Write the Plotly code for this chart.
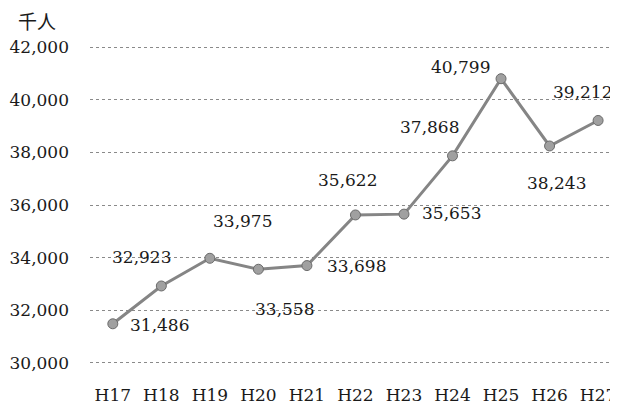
import plotly.graph_objects as go

categories = ["H17", "H18", "H19", "H20", "H21", "H22", "H23", "H24", "H25", "H26", "H27"]
values = [31486, 32923, 33975, 33558, 33698, 35622, 35653, 37868, 40799, 38243, 39212]
y_ticks = [30000, 32000, 34000, 36000, 38000, 40000, 42000]
y_tick_labels = ["30,000", "32,000", "34,000", "36,000", "38,000", "40,000", "42,000"]
unit_label = "千人"

# label offsets in pixels (style)
label_shift = [(47, -1), (-20, 29), (33, 37), (26, -40), (50, 0), (-8, 35),
               (48, 1), (-23, 29), (-41, 12), (7, -37), (-16, 28)]

serif = "DejaVu Serif"
xs = list(range(len(categories)))

fig = go.Figure()
fig.add_trace(go.Scatter(
    x=xs, y=values, mode="lines+markers",
    line=dict(color="#858585", width=3),
    marker=dict(symbol="circle", size=10, color="#a0a0a0",
                line=dict(color="#6a6a6a", width=1)),
    hoverinfo="skip", showlegend=False,
))

annotations = []
for i, v in enumerate(values):
    dx, dy = label_shift[i]
    annotations.append(dict(
        x=xs[i], y=v, xref="x", yref="y", text=f"{v:,}", showarrow=False,
        xshift=dx, yshift=dy, font=dict(family=serif, size=17, color="#1a1a1a"),
    ))
annotations.append(dict(
    x=-0.1004, y=1.078, xref="paper", yref="paper", xanchor="center", yanchor="middle",
    text=unit_label, showarrow=False,
    font=dict(family="Noto Sans CJK JP", size=19, color="#1a1a1a"),
))

# page has an 8px body margin, so the figure is sized to fit the window
fig.update_layout(
    width=610, height=399,
    margin=dict(l=82, r=0, t=37, b=42),
    paper_bgcolor="white", plot_bgcolor="white",
    annotations=annotations,
    xaxis=dict(
        range=[-0.47, 10.41], tickmode="array", tickvals=xs, ticktext=categories,
        showgrid=False, zeroline=False, showline=False, ticks="",
        ticklabelstandoff=18,
        tickfont=dict(family=serif, size=17, color="#1a1a1a"),
    ),
    yaxis=dict(
        range=[29920, 42080], tickmode="array", tickvals=y_ticks, ticktext=y_tick_labels,
        showgrid=True, gridcolor="#8a8a8a", griddash="dot", gridwidth=1,
        zeroline=False, showline=False, ticks="",
        ticklabelstandoff=20,
        tickfont=dict(family=serif, size=17, color="#1a1a1a"),
    ),
)

fig.write_html("out.html")
